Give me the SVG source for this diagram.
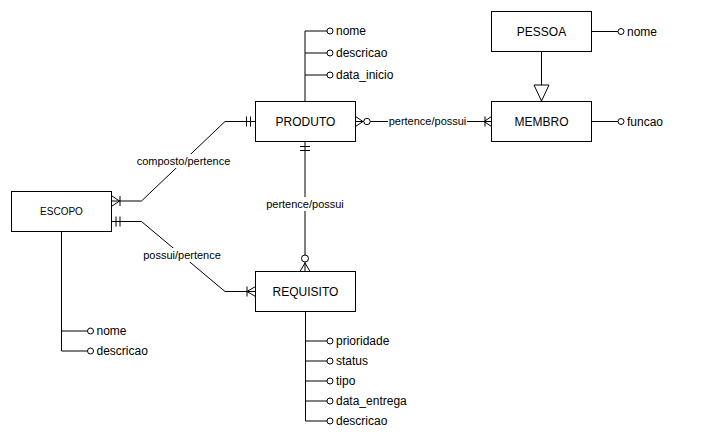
<svg xmlns="http://www.w3.org/2000/svg" width="713" height="443" viewBox="0 0 713 443">
<style>
.box{fill:#fff;stroke:#000;stroke-width:1}
.ln{fill:none;stroke:#000;stroke-width:1}
.dot{fill:#fff;stroke:#000;stroke-width:1}
.t{font-family:"Liberation Sans",Arial,sans-serif;font-size:12px;fill:#000}
.c{text-anchor:middle}
.el{font-family:"Liberation Sans",Arial,sans-serif;font-size:11px;fill:#000;text-anchor:middle}
.bg{fill:#fff}
</style>
<rect width="713" height="443" fill="#fff"/>
<g id="connectors">
  <!-- attribute lines PRODUTO -->
  <path class="ln" d="M305 101V31H327M305 53H327M305 75H327"/>
  <circle class="dot" cx="330" cy="31" r="3"/>
  <circle class="dot" cx="330" cy="53" r="3"/>
  <circle class="dot" cx="330" cy="75" r="3"/>
  <!-- PESSOA nome -->
  <path class="ln" d="M591.5 31.5H618"/>
  <circle class="dot" cx="621" cy="31.5" r="3"/>
  <!-- MEMBRO funcao -->
  <path class="ln" d="M591.5 121.5H618"/>
  <circle class="dot" cx="621" cy="121.5" r="3"/>
  <!-- inheritance -->
  <path class="ln" d="M541.5 51.5V85"/>
  <path class="ln" d="M534 85H549L541.5 101Z" fill="#fff"/>
  <!-- PRODUTO - MEMBRO -->
  <path class="ln" d="M355.5 121.5H491.5"/>
  <path class="ln" d="M355.5 116.5L363 121.5L355.5 126.5"/>
  <circle class="dot" cx="367" cy="121.5" r="3.2"/>
  <path class="ln" d="M485 116.5V126.5M484 121.5L491.5 116.5M484 121.5L491.5 126.5"/>
  <rect class="bg" x="388" y="114" width="79" height="14"/>
  <text class="el" x="427.5" y="125">pertence/possui</text>
  <!-- ESCOPO - PRODUTO composto -->
  <path class="ln" d="M111.5 201H141.5L225 121.5H255.5"/>
  <path class="ln" d="M112 196L119.5 201L112 206M120 196V206"/>
  <path class="ln" d="M246.5 116.5V126.5M250.5 116.5V126.5"/>
  <rect class="bg" x="136" y="154" width="95" height="14"/>
  <text class="el" x="183.5" y="165">composto/pertence</text>
  <!-- ESCOPO - REQUISITO possui -->
  <path class="ln" d="M111.5 221.5H141.5L225 291.5H255.5"/>
  <path class="ln" d="M116 216.5V226.5M120 216.5V226.5"/>
  <path class="ln" d="M247 286.5V296.5M247 291.5L255.5 286.5M247 291.5L255.5 296.5"/>
  <rect class="bg" x="142" y="248" width="80" height="14"/>
  <text class="el" x="182" y="259">possui/pertence</text>
  <!-- PRODUTO - REQUISITO -->
  <path class="ln" d="M305 141.5V271.5"/>
  <path class="ln" d="M300 146.5H310M300 150.5H310"/>
  <circle class="dot" cx="305" cy="258.5" r="3.5"/>
  <path class="ln" d="M305 263L300 271.5M305 263L310 271.5"/>
  <rect class="bg" x="265" y="197" width="80" height="14"/>
  <text class="el" x="305" y="208">pertence/possui</text>
  <!-- REQUISITO attributes -->
  <path class="ln" d="M305.5 311.5V421H327M305.5 341H327M305.5 361H327M305.5 381H327M305.5 401H327"/>
  <circle class="dot" cx="330" cy="341" r="3"/>
  <circle class="dot" cx="330" cy="361" r="3"/>
  <circle class="dot" cx="330" cy="381" r="3"/>
  <circle class="dot" cx="330" cy="401" r="3"/>
  <circle class="dot" cx="330" cy="421" r="3"/>
  <!-- ESCOPO attributes -->
  <path class="ln" d="M61.5 231.5V351H87.5M61.5 331H87.5"/>
  <circle class="dot" cx="90.5" cy="331" r="3"/>
  <circle class="dot" cx="90.5" cy="351" r="3"/>
</g>
<g id="attr-labels">
  <text class="t" x="336" y="35">nome</text>
  <text class="t" x="336" y="57">descricao</text>
  <text class="t" x="336" y="79">data_inicio</text>
  <text class="t" x="627" y="35.5">nome</text>
  <text class="t" x="627" y="125.5">funcao</text>
  <text class="t" x="336" y="345">prioridade</text>
  <text class="t" x="336" y="365">status</text>
  <text class="t" x="336" y="385">tipo</text>
  <text class="t" x="336" y="405">data_entrega</text>
  <text class="t" x="336" y="425">descricao</text>
  <text class="t" x="96.5" y="335">nome</text>
  <text class="t" x="96.5" y="355">descricao</text>
</g>
<g id="PRODUTO"><rect class="box" x="255.5" y="101.5" width="100" height="40"/><text class="t c" x="305.5" y="125.5">PRODUTO</text></g>
<g id="PESSOA"><rect class="box" x="491.5" y="11.5" width="100" height="40"/><text class="t c" x="541.5" y="35.5">PESSOA</text></g>
<g id="MEMBRO"><rect class="box" x="491.5" y="101.5" width="100" height="40"/><text class="t c" x="541.5" y="125.5">MEMBRO</text></g>
<g id="ESCOPO"><rect class="box" x="11.5" y="191.5" width="100" height="40"/><text class="t c" x="61.5" y="215" style="font-size:10px">ESCOPO</text></g>
<g id="REQUISITO"><rect class="box" x="255.5" y="271.5" width="100" height="40"/><text class="t c" x="305.5" y="295.5">REQUISITO</text></g>
</svg>
